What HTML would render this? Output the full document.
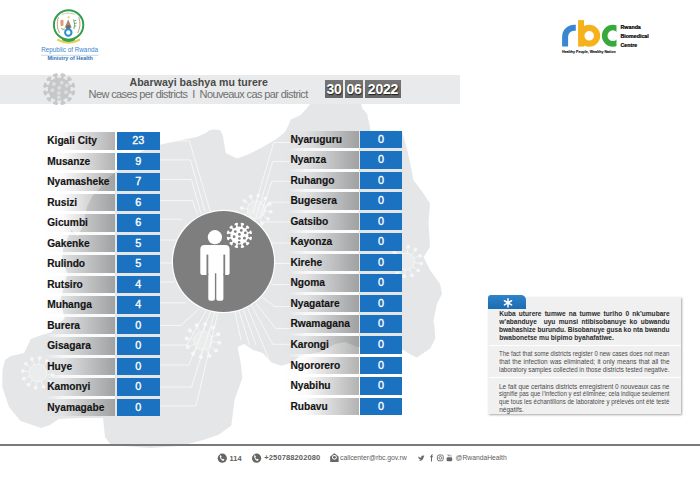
<!DOCTYPE html>
<html><head><meta charset="utf-8">
<style>
*{margin:0;padding:0;box-sizing:border-box}
html,body{width:700px;height:478px;overflow:hidden;background:#fff}
body{position:relative;font-family:"Liberation Sans",sans-serif}
.abs{position:absolute}
.bar{position:absolute;height:17.5px;background:linear-gradient(to right,rgba(0,0,0,0) 0%,rgba(0,0,0,0.02) 30%,rgba(0,0,0,0.30) 100%)}
.nm{position:absolute;height:17.5px;line-height:17.5px;font-weight:bold;font-size:10.2px;color:#141414;white-space:nowrap;-webkit-text-stroke:0.15px #141414}
.bx{position:absolute;height:17.5px;line-height:16.6px;background:#1b72c0;color:#fff;font-size:10.8px;text-align:center;-webkit-text-stroke:0.35px #fff}
.sep{position:absolute;height:3px;background:linear-gradient(to right,rgba(255,255,255,0),rgba(255,255,255,0.75) 25%,rgba(255,255,255,0.9))}
.il{position:absolute;white-space:nowrap;line-height:7px}
.jl{text-align:justify;text-align-last:justify}
.dt{position:absolute;top:79.8px;height:18.6px;background:linear-gradient(#757575,#666);color:#fff;font-weight:bold;font-size:14px;line-height:19px;text-align:center;letter-spacing:-0.2px;text-shadow:0.6px 0.8px 1px rgba(0,0,0,.75)}
</style></head><body>
<svg class="abs" style="left:0;top:0" width="700" height="478" viewBox="0 0 700 478">
<polygon points="311.4,102.5 360.7,102.5 362.0,108.0 367.0,113.7 369.3,123.7 370.7,130.9 395.0,130.5 402.0,131.0 407.0,149.0 411.4,169.0 413.4,180.0 423.5,193.4 430.0,203.4 428.5,223.5 430.0,247.0 423.5,257.0 430.0,270.0 440.0,283.8 442.0,293.8 437.0,303.8 433.5,320.6 434.4,325.0 435.3,338.4 430.2,348.4 416.9,357.6 410.0,354.3 403.5,350.0 370.0,350.0 355.0,346.0 345.0,342.0 335.0,344.0 320.0,352.0 300.0,356.0 291.0,362.7 281.5,365.8 272.0,362.7 262.7,353.0 253.0,350.0 244.0,344.0 237.6,347.0 240.7,362.7 242.3,378.0 234.5,400.0 231.3,425.4 218.8,434.8 203.0,440.0 180.0,446.0 150.0,448.0 111.0,445.0 105.0,437.0 103.0,418.0 80.0,418.0 59.0,419.0 50.0,425.0 41.0,428.0 20.6,421.0 9.0,407.0 2.3,387.0 2.5,370.0 5.0,360.0 10.3,356.3 24.0,353.0 25.7,349.5 30.9,339.0 39.4,335.7 51.5,332.3 58.3,323.7 64.8,318.5 60.1,301.6 63.9,286.5 67.7,273.3 62.0,262.0 63.0,248.8 71.4,230.0 77.7,236.6 83.3,225.3 85.2,214.0 87.0,206.5 92.7,195.2 100.3,187.7 107.8,178.2 115.3,172.6 140.0,152.0 161.0,144.6 184.0,139.5 197.0,137.0 205.7,133.0 210.0,130.0 214.3,129.4 220.0,130.0 222.9,135.7 224.3,144.3 225.7,152.9 237.0,158.6 248.6,154.3 262.9,147.0 277.0,138.6 285.0,132.0 287.9,126.6 290.7,119.4 300.7,115.0 306.4,108.7" fill="#e5e6e7"/>
<path d="M160,140.9 H189.4 L210.3,211.6 M160,159.9 H190.4 L205,211.6 M160,179.6 H191.5 L200.9,213.7 M160,200.7 H192.5 L197.5,214.5 M160,219.2 H182 M160,240 H175.8 M160,263 H172.5 M160,282 H174.5 M160,302.9 H186 M160,325.4 H181 L199,309 M160,345 H187 L206,310.8 M160,365 H188.7 L210.6,312 M160,387 H191.6 L215,312 M160,406 H196 L218,312 M290.4,142.5 H273.7 L252.8,213.7 M290.4,161.4 H272.7 L256,217.9 M290.4,181.3 H271.6 L260,217.9 M290.4,202.2 H268.5 L262,215.8 M290.4,222 H261 M290.4,243 H270 M290.4,263.5 H274.3 M290.4,284.6 H271.6 M290.4,306.6 H274.7 L262.2,297.2 M290.4,328.6 H275.8 L256,303.5 M290.4,344.3 H272.7 L251.7,305.6 M247.5,307.7 L268.5,357.9 M243.4,309.7 L256,345 M239,310.8 L249.6,345 M235,311.5 L241,340" fill="none" stroke="#fff" stroke-width="0.75" opacity="0.9"/>
<g fill="none" stroke="#fff" stroke-width="0.8" opacity="0.7"><circle cx="256.3" cy="209.9" r="8.9" fill="#fff" fill-opacity="0.35"/><line x1="265.12" y1="211.05" x2="270.78" y2="211.79"/><circle cx="270.78" cy="211.79" r="1.5" fill="#fff"/><line x1="263.37" y1="215.31" x2="267.89" y2="218.78"/><circle cx="267.89" cy="218.78" r="1.5" fill="#fff"/><line x1="259.71" y1="218.12" x2="261.90" y2="223.38"/><circle cx="261.90" cy="223.38" r="1.5" fill="#fff"/><line x1="255.15" y1="218.72" x2="254.41" y2="224.38"/><circle cx="254.41" cy="224.38" r="1.5" fill="#fff"/><line x1="250.89" y1="216.97" x2="247.42" y2="221.49"/><circle cx="247.42" cy="221.49" r="1.5" fill="#fff"/><line x1="248.08" y1="213.31" x2="242.82" y2="215.50"/><circle cx="242.82" cy="215.50" r="1.5" fill="#fff"/><line x1="247.48" y1="208.75" x2="241.82" y2="208.01"/><circle cx="241.82" cy="208.01" r="1.5" fill="#fff"/><line x1="249.23" y1="204.49" x2="244.71" y2="201.02"/><circle cx="244.71" cy="201.02" r="1.5" fill="#fff"/><line x1="252.89" y1="201.68" x2="250.70" y2="196.42"/><circle cx="250.70" cy="196.42" r="1.5" fill="#fff"/><line x1="257.45" y1="201.08" x2="258.19" y2="195.42"/><circle cx="258.19" cy="195.42" r="1.5" fill="#fff"/><line x1="261.71" y1="202.83" x2="265.18" y2="198.31"/><circle cx="265.18" cy="198.31" r="1.5" fill="#fff"/><line x1="264.52" y1="206.49" x2="269.78" y2="204.30"/><circle cx="269.78" cy="204.30" r="1.5" fill="#fff"/></g>
<g fill="none" stroke="#fff" stroke-width="0.8" opacity="0.7"><circle cx="203" cy="340.6" r="9.2" fill="#fff" fill-opacity="0.35"/><line x1="212.12" y1="341.79" x2="219.36" y2="342.74"/><circle cx="219.36" cy="342.74" r="1.7" fill="#fff"/><line x1="210.30" y1="346.19" x2="216.10" y2="350.63"/><circle cx="216.10" cy="350.63" r="1.7" fill="#fff"/><line x1="206.53" y1="349.10" x2="209.33" y2="355.84"/><circle cx="209.33" cy="355.84" r="1.7" fill="#fff"/><line x1="201.81" y1="349.72" x2="200.86" y2="356.96"/><circle cx="200.86" cy="356.96" r="1.7" fill="#fff"/><line x1="197.41" y1="347.90" x2="192.97" y2="353.70"/><circle cx="192.97" cy="353.70" r="1.7" fill="#fff"/><line x1="194.50" y1="344.13" x2="187.76" y2="346.93"/><circle cx="187.76" cy="346.93" r="1.7" fill="#fff"/><line x1="193.88" y1="339.41" x2="186.64" y2="338.46"/><circle cx="186.64" cy="338.46" r="1.7" fill="#fff"/><line x1="195.70" y1="335.01" x2="189.90" y2="330.57"/><circle cx="189.90" cy="330.57" r="1.7" fill="#fff"/><line x1="199.47" y1="332.10" x2="196.67" y2="325.36"/><circle cx="196.67" cy="325.36" r="1.7" fill="#fff"/><line x1="204.19" y1="331.48" x2="205.14" y2="324.24"/><circle cx="205.14" cy="324.24" r="1.7" fill="#fff"/><line x1="208.59" y1="333.30" x2="213.03" y2="327.50"/><circle cx="213.03" cy="327.50" r="1.7" fill="#fff"/><line x1="211.50" y1="337.07" x2="218.24" y2="334.27"/><circle cx="218.24" cy="334.27" r="1.7" fill="#fff"/></g>
<g fill="none" stroke="#fff" stroke-width="0.8" opacity="0.7"><circle cx="37.7" cy="372.9" r="8.8" fill="#fff" fill-opacity="0.35"/><line x1="46.43" y1="374.04" x2="52.57" y2="374.84"/><circle cx="52.57" cy="374.84" r="1.5" fill="#fff"/><line x1="44.69" y1="378.25" x2="49.61" y2="382.02"/><circle cx="49.61" cy="382.02" r="1.5" fill="#fff"/><line x1="41.07" y1="381.03" x2="43.45" y2="386.75"/><circle cx="43.45" cy="386.75" r="1.5" fill="#fff"/><line x1="36.56" y1="381.63" x2="35.76" y2="387.77"/><circle cx="35.76" cy="387.77" r="1.5" fill="#fff"/><line x1="32.35" y1="379.89" x2="28.58" y2="384.81"/><circle cx="28.58" cy="384.81" r="1.5" fill="#fff"/><line x1="29.57" y1="376.27" x2="23.85" y2="378.65"/><circle cx="23.85" cy="378.65" r="1.5" fill="#fff"/><line x1="28.97" y1="371.76" x2="22.83" y2="370.96"/><circle cx="22.83" cy="370.96" r="1.5" fill="#fff"/><line x1="30.71" y1="367.55" x2="25.79" y2="363.78"/><circle cx="25.79" cy="363.78" r="1.5" fill="#fff"/><line x1="34.33" y1="364.77" x2="31.95" y2="359.05"/><circle cx="31.95" cy="359.05" r="1.5" fill="#fff"/><line x1="38.84" y1="364.17" x2="39.64" y2="358.03"/><circle cx="39.64" cy="358.03" r="1.5" fill="#fff"/><line x1="43.05" y1="365.91" x2="46.82" y2="360.99"/><circle cx="46.82" cy="360.99" r="1.5" fill="#fff"/><line x1="45.83" y1="369.53" x2="51.55" y2="367.15"/><circle cx="51.55" cy="367.15" r="1.5" fill="#fff"/></g>
<g fill="none" stroke="#fff" stroke-width="0.8" opacity="0.7"><circle cx="406.3" cy="261.5" r="8.5" fill="#fff" fill-opacity="0.35"/><line x1="414.73" y1="262.60" x2="421.17" y2="263.44"/><circle cx="421.17" cy="263.44" r="1.5" fill="#fff"/><line x1="413.05" y1="266.67" x2="418.21" y2="270.62"/><circle cx="418.21" cy="270.62" r="1.5" fill="#fff"/><line x1="409.56" y1="269.35" x2="412.05" y2="275.35"/><circle cx="412.05" cy="275.35" r="1.5" fill="#fff"/><line x1="405.20" y1="269.93" x2="404.36" y2="276.37"/><circle cx="404.36" cy="276.37" r="1.5" fill="#fff"/><line x1="401.13" y1="268.25" x2="397.18" y2="273.41"/><circle cx="397.18" cy="273.41" r="1.5" fill="#fff"/><line x1="398.45" y1="264.76" x2="392.45" y2="267.25"/><circle cx="392.45" cy="267.25" r="1.5" fill="#fff"/><line x1="397.87" y1="260.40" x2="391.43" y2="259.56"/><circle cx="391.43" cy="259.56" r="1.5" fill="#fff"/><line x1="399.55" y1="256.33" x2="394.39" y2="252.38"/><circle cx="394.39" cy="252.38" r="1.5" fill="#fff"/><line x1="403.04" y1="253.65" x2="400.55" y2="247.65"/><circle cx="400.55" cy="247.65" r="1.5" fill="#fff"/><line x1="407.40" y1="253.07" x2="408.24" y2="246.63"/><circle cx="408.24" cy="246.63" r="1.5" fill="#fff"/><line x1="411.47" y1="254.75" x2="415.42" y2="249.59"/><circle cx="415.42" cy="249.59" r="1.5" fill="#fff"/><line x1="414.15" y1="258.24" x2="420.15" y2="255.75"/><circle cx="420.15" cy="255.75" r="1.5" fill="#fff"/></g>
</svg>
<!-- header band -->
<div class="abs" style="left:0;top:75px;width:460px;height:28.5px;background:#e9eaeb"></div>
<svg class="abs" style="left:0;top:60px" width="120" height="60" viewBox="0 60 120 60">
<g fill="#c6c7c8"><rect x="9.04" y="-1.10" width="5.96" height="2.2" transform="translate(59.2,89.1) rotate(14.90)"/><rect x="13.20" y="-2.50" width="2.88" height="5.00" rx="1.26" transform="translate(59.2,89.1) rotate(14.90)"/><rect x="9.04" y="-1.10" width="5.96" height="2.2" transform="translate(59.2,89.1) rotate(44.90)"/><rect x="13.20" y="-2.50" width="2.88" height="5.00" rx="1.26" transform="translate(59.2,89.1) rotate(44.90)"/><rect x="9.04" y="-1.10" width="5.96" height="2.2" transform="translate(59.2,89.1) rotate(74.90)"/><rect x="13.20" y="-2.50" width="2.88" height="5.00" rx="1.26" transform="translate(59.2,89.1) rotate(74.90)"/><rect x="9.04" y="-1.10" width="5.96" height="2.2" transform="translate(59.2,89.1) rotate(104.90)"/><rect x="13.20" y="-2.50" width="2.88" height="5.00" rx="1.26" transform="translate(59.2,89.1) rotate(104.90)"/><rect x="9.04" y="-1.10" width="5.96" height="2.2" transform="translate(59.2,89.1) rotate(134.90)"/><rect x="13.20" y="-2.50" width="2.88" height="5.00" rx="1.26" transform="translate(59.2,89.1) rotate(134.90)"/><rect x="9.04" y="-1.10" width="5.96" height="2.2" transform="translate(59.2,89.1) rotate(164.90)"/><rect x="13.20" y="-2.50" width="2.88" height="5.00" rx="1.26" transform="translate(59.2,89.1) rotate(164.90)"/><rect x="9.04" y="-1.10" width="5.96" height="2.2" transform="translate(59.2,89.1) rotate(194.90)"/><rect x="13.20" y="-2.50" width="2.88" height="5.00" rx="1.26" transform="translate(59.2,89.1) rotate(194.90)"/><rect x="9.04" y="-1.10" width="5.96" height="2.2" transform="translate(59.2,89.1) rotate(224.90)"/><rect x="13.20" y="-2.50" width="2.88" height="5.00" rx="1.26" transform="translate(59.2,89.1) rotate(224.90)"/><rect x="9.04" y="-1.10" width="5.96" height="2.2" transform="translate(59.2,89.1) rotate(254.90)"/><rect x="13.20" y="-2.50" width="2.88" height="5.00" rx="1.26" transform="translate(59.2,89.1) rotate(254.90)"/><rect x="9.04" y="-1.10" width="5.96" height="2.2" transform="translate(59.2,89.1) rotate(284.90)"/><rect x="13.20" y="-2.50" width="2.88" height="5.00" rx="1.26" transform="translate(59.2,89.1) rotate(284.90)"/><rect x="9.04" y="-1.10" width="5.96" height="2.2" transform="translate(59.2,89.1) rotate(314.90)"/><rect x="13.20" y="-2.50" width="2.88" height="5.00" rx="1.26" transform="translate(59.2,89.1) rotate(314.90)"/><rect x="9.04" y="-1.10" width="5.96" height="2.2" transform="translate(59.2,89.1) rotate(344.90)"/><rect x="13.20" y="-2.50" width="2.88" height="5.00" rx="1.26" transform="translate(59.2,89.1) rotate(344.90)"/><circle cx="59.2" cy="89.1" r="11.3"/></g><g fill="#dcdddd"><circle cx="53.90" cy="84.10" r="2.0"/><circle cx="61.70" cy="82.70" r="2.0"/><circle cx="66.70" cy="85.50" r="2.0"/><circle cx="59.20" cy="87.70" r="2.0"/><circle cx="52.40" cy="90.20" r="2.0"/><circle cx="58.80" cy="93.00" r="2.0"/><circle cx="66.00" cy="92.30" r="2.0"/><circle cx="58.80" cy="97.40" r="1.9"/></g>
</svg>
<div class="abs" style="left:129.5px;top:76px;font-size:10.6px;font-weight:bold;color:#4a4a4a;white-space:nowrap">Abarwayi bashya mu turere</div>
<div class="abs" style="left:88.6px;top:88px;font-size:11px;color:#707070;white-space:nowrap;letter-spacing:-0.62px">New cases per districts&nbsp; I &nbsp;Nouveaux cas par district</div>
<div class="dt" style="left:325.1px;width:18px">30</div>
<div class="dt" style="left:345px;width:18px">06</div>
<div class="dt" style="left:365px;width:36px">2022</div>
<div class="bar" style="left:40px;top:132.00px;width:75.2px"></div><div class="nm" style="left:47.2px;top:132.00px">Kigali City</div><div class="bx" style="left:117px;top:132.00px;width:42.5px">23</div>
<div class="sep" style="left:46px;top:149.50px;width:69.2px"></div>
<div class="bar" style="left:40px;top:152.50px;width:75.2px"></div><div class="nm" style="left:47.2px;top:152.50px">Musanze</div><div class="bx" style="left:117px;top:152.50px;width:42.5px">9</div>
<div class="sep" style="left:46px;top:170.00px;width:69.2px"></div>
<div class="bar" style="left:40px;top:173.00px;width:75.2px"></div><div class="nm" style="left:47.2px;top:173.00px">Nyamasheke</div><div class="bx" style="left:117px;top:173.00px;width:42.5px">7</div>
<div class="sep" style="left:46px;top:190.50px;width:69.2px"></div>
<div class="bar" style="left:40px;top:193.50px;width:75.2px"></div><div class="nm" style="left:47.2px;top:193.50px">Rusizi</div><div class="bx" style="left:117px;top:193.50px;width:42.5px">6</div>
<div class="sep" style="left:46px;top:211.00px;width:69.2px"></div>
<div class="bar" style="left:40px;top:214.00px;width:75.2px"></div><div class="nm" style="left:47.2px;top:214.00px">Gicumbi</div><div class="bx" style="left:117px;top:214.00px;width:42.5px">6</div>
<div class="sep" style="left:46px;top:231.50px;width:69.2px"></div>
<div class="bar" style="left:40px;top:234.50px;width:75.2px"></div><div class="nm" style="left:47.2px;top:234.50px">Gakenke</div><div class="bx" style="left:117px;top:234.50px;width:42.5px">5</div>
<div class="sep" style="left:46px;top:252.00px;width:69.2px"></div>
<div class="bar" style="left:40px;top:255.00px;width:75.2px"></div><div class="nm" style="left:47.2px;top:255.00px">Rulindo</div><div class="bx" style="left:117px;top:255.00px;width:42.5px">5</div>
<div class="sep" style="left:46px;top:272.50px;width:69.2px"></div>
<div class="bar" style="left:40px;top:275.50px;width:75.2px"></div><div class="nm" style="left:47.2px;top:275.50px">Rutsiro</div><div class="bx" style="left:117px;top:275.50px;width:42.5px">4</div>
<div class="sep" style="left:46px;top:293.00px;width:69.2px"></div>
<div class="bar" style="left:40px;top:296.00px;width:75.2px"></div><div class="nm" style="left:47.2px;top:296.00px">Muhanga</div><div class="bx" style="left:117px;top:296.00px;width:42.5px">4</div>
<div class="sep" style="left:46px;top:313.50px;width:69.2px"></div>
<div class="bar" style="left:40px;top:316.50px;width:75.2px"></div><div class="nm" style="left:47.2px;top:316.50px">Burera</div><div class="bx" style="left:117px;top:316.50px;width:42.5px">0</div>
<div class="sep" style="left:46px;top:334.00px;width:69.2px"></div>
<div class="bar" style="left:40px;top:337.00px;width:75.2px"></div><div class="nm" style="left:47.2px;top:337.00px">Gisagara</div><div class="bx" style="left:117px;top:337.00px;width:42.5px">0</div>
<div class="sep" style="left:46px;top:354.50px;width:69.2px"></div>
<div class="bar" style="left:40px;top:357.50px;width:75.2px"></div><div class="nm" style="left:47.2px;top:357.50px">Huye</div><div class="bx" style="left:117px;top:357.50px;width:42.5px">0</div>
<div class="sep" style="left:46px;top:375.00px;width:69.2px"></div>
<div class="bar" style="left:40px;top:378.00px;width:75.2px"></div><div class="nm" style="left:47.2px;top:378.00px">Kamonyi</div><div class="bx" style="left:117px;top:378.00px;width:42.5px">0</div>
<div class="sep" style="left:46px;top:395.50px;width:69.2px"></div>
<div class="bar" style="left:40px;top:398.50px;width:75.2px"></div><div class="nm" style="left:47.2px;top:398.50px">Nyamagabe</div><div class="bx" style="left:117px;top:398.50px;width:42.5px">0</div>
<div class="bar" style="left:283px;top:130.50px;width:76px"></div><div class="nm" style="left:290.4px;top:130.50px">Nyaruguru</div><div class="bx" style="left:360.2px;top:130.50px;width:41.8px">0</div>
<div class="sep" style="left:289px;top:148.00px;width:70px"></div>
<div class="bar" style="left:283px;top:151.05px;width:76px"></div><div class="nm" style="left:290.4px;top:151.05px">Nyanza</div><div class="bx" style="left:360.2px;top:151.05px;width:41.8px">0</div>
<div class="sep" style="left:289px;top:168.55px;width:70px"></div>
<div class="bar" style="left:283px;top:171.60px;width:76px"></div><div class="nm" style="left:290.4px;top:171.60px">Ruhango</div><div class="bx" style="left:360.2px;top:171.60px;width:41.8px">0</div>
<div class="sep" style="left:289px;top:189.10px;width:70px"></div>
<div class="bar" style="left:283px;top:192.15px;width:76px"></div><div class="nm" style="left:290.4px;top:192.15px">Bugesera</div><div class="bx" style="left:360.2px;top:192.15px;width:41.8px">0</div>
<div class="sep" style="left:289px;top:209.65px;width:70px"></div>
<div class="bar" style="left:283px;top:212.70px;width:76px"></div><div class="nm" style="left:290.4px;top:212.70px">Gatsibo</div><div class="bx" style="left:360.2px;top:212.70px;width:41.8px">0</div>
<div class="sep" style="left:289px;top:230.20px;width:70px"></div>
<div class="bar" style="left:283px;top:233.25px;width:76px"></div><div class="nm" style="left:290.4px;top:233.25px">Kayonza</div><div class="bx" style="left:360.2px;top:233.25px;width:41.8px">0</div>
<div class="sep" style="left:289px;top:250.75px;width:70px"></div>
<div class="bar" style="left:283px;top:253.80px;width:76px"></div><div class="nm" style="left:290.4px;top:253.80px">Kirehe</div><div class="bx" style="left:360.2px;top:253.80px;width:41.8px">0</div>
<div class="sep" style="left:289px;top:271.30px;width:70px"></div>
<div class="bar" style="left:283px;top:274.35px;width:76px"></div><div class="nm" style="left:290.4px;top:274.35px">Ngoma</div><div class="bx" style="left:360.2px;top:274.35px;width:41.8px">0</div>
<div class="sep" style="left:289px;top:291.85px;width:70px"></div>
<div class="bar" style="left:283px;top:294.90px;width:76px"></div><div class="nm" style="left:290.4px;top:294.90px">Nyagatare</div><div class="bx" style="left:360.2px;top:294.90px;width:41.8px">0</div>
<div class="sep" style="left:289px;top:312.40px;width:70px"></div>
<div class="bar" style="left:283px;top:315.45px;width:76px"></div><div class="nm" style="left:290.4px;top:315.45px">Rwamagana</div><div class="bx" style="left:360.2px;top:315.45px;width:41.8px">0</div>
<div class="sep" style="left:289px;top:332.95px;width:70px"></div>
<div class="bar" style="left:283px;top:336.00px;width:76px"></div><div class="nm" style="left:290.4px;top:336.00px">Karongi</div><div class="bx" style="left:360.2px;top:336.00px;width:41.8px">0</div>
<div class="sep" style="left:289px;top:353.50px;width:70px"></div>
<div class="bar" style="left:283px;top:356.55px;width:76px"></div><div class="nm" style="left:290.4px;top:356.55px">Ngororero</div><div class="bx" style="left:360.2px;top:356.55px;width:41.8px">0</div>
<div class="sep" style="left:289px;top:374.05px;width:70px"></div>
<div class="bar" style="left:283px;top:377.10px;width:76px"></div><div class="nm" style="left:290.4px;top:377.10px">Nyabihu</div><div class="bx" style="left:360.2px;top:377.10px;width:41.8px">0</div>
<div class="sep" style="left:289px;top:394.60px;width:70px"></div>
<div class="bar" style="left:283px;top:397.65px;width:76px"></div><div class="nm" style="left:290.4px;top:397.65px">Rubavu</div><div class="bx" style="left:360.2px;top:397.65px;width:41.8px">0</div>
<!-- circle -->
<div class="abs" style="left:172.6px;top:211.2px;width:101.4px;height:100.6px;border-radius:50%;background:#7e7e7e;box-shadow:0 0 0 1.2px rgba(255,255,255,0.95)"></div>
<svg class="abs" style="left:0;top:0" width="700" height="478" viewBox="0 0 700 478">
<circle cx="214.9" cy="237.2" r="7.1" fill="#fff"/>
<path d="M204.7,244.9 H225.2 Q229.6,244.9 229.6,249.3 V273 Q229.6,275 227.6,275 H225.4 Q223.4,275 223.4,273 V254.6 H223.4 V298.8 Q223.4,300.8 221.4,300.8 H218.3 Q216.3,300.8 216.3,298.8 V273.3 H214.9 V298.8 Q214.9,300.8 212.9,300.8 H210.3 Q208.3,300.8 208.3,298.8 V254.6 V273 Q208.3,275 206.3,275 H202.3 Q200.3,275 200.3,273 V249.3 Q200.3,244.9 204.7,244.9 Z" fill="#fff"/>
<rect x="206.5" y="254.6" width="1.8" height="21" fill="#7e7e7e"/>
<rect x="223.4" y="254.6" width="1.8" height="21" fill="#7e7e7e"/>
<g fill="#fff"><rect x="7.20" y="-0.85" width="4.80" height="1.7" transform="translate(239.4,235.4) rotate(14.90)"/><rect x="10.70" y="-1.80" width="2.08" height="3.60" rx="0.91" transform="translate(239.4,235.4) rotate(14.90)"/><rect x="7.20" y="-0.85" width="4.80" height="1.7" transform="translate(239.4,235.4) rotate(44.90)"/><rect x="10.70" y="-1.80" width="2.08" height="3.60" rx="0.91" transform="translate(239.4,235.4) rotate(44.90)"/><rect x="7.20" y="-0.85" width="4.80" height="1.7" transform="translate(239.4,235.4) rotate(74.90)"/><rect x="10.70" y="-1.80" width="2.08" height="3.60" rx="0.91" transform="translate(239.4,235.4) rotate(74.90)"/><rect x="7.20" y="-0.85" width="4.80" height="1.7" transform="translate(239.4,235.4) rotate(104.90)"/><rect x="10.70" y="-1.80" width="2.08" height="3.60" rx="0.91" transform="translate(239.4,235.4) rotate(104.90)"/><rect x="7.20" y="-0.85" width="4.80" height="1.7" transform="translate(239.4,235.4) rotate(134.90)"/><rect x="10.70" y="-1.80" width="2.08" height="3.60" rx="0.91" transform="translate(239.4,235.4) rotate(134.90)"/><rect x="7.20" y="-0.85" width="4.80" height="1.7" transform="translate(239.4,235.4) rotate(164.90)"/><rect x="10.70" y="-1.80" width="2.08" height="3.60" rx="0.91" transform="translate(239.4,235.4) rotate(164.90)"/><rect x="7.20" y="-0.85" width="4.80" height="1.7" transform="translate(239.4,235.4) rotate(194.90)"/><rect x="10.70" y="-1.80" width="2.08" height="3.60" rx="0.91" transform="translate(239.4,235.4) rotate(194.90)"/><rect x="7.20" y="-0.85" width="4.80" height="1.7" transform="translate(239.4,235.4) rotate(224.90)"/><rect x="10.70" y="-1.80" width="2.08" height="3.60" rx="0.91" transform="translate(239.4,235.4) rotate(224.90)"/><rect x="7.20" y="-0.85" width="4.80" height="1.7" transform="translate(239.4,235.4) rotate(254.90)"/><rect x="10.70" y="-1.80" width="2.08" height="3.60" rx="0.91" transform="translate(239.4,235.4) rotate(254.90)"/><rect x="7.20" y="-0.85" width="4.80" height="1.7" transform="translate(239.4,235.4) rotate(284.90)"/><rect x="10.70" y="-1.80" width="2.08" height="3.60" rx="0.91" transform="translate(239.4,235.4) rotate(284.90)"/><rect x="7.20" y="-0.85" width="4.80" height="1.7" transform="translate(239.4,235.4) rotate(314.90)"/><rect x="10.70" y="-1.80" width="2.08" height="3.60" rx="0.91" transform="translate(239.4,235.4) rotate(314.90)"/><rect x="7.20" y="-0.85" width="4.80" height="1.7" transform="translate(239.4,235.4) rotate(344.90)"/><rect x="10.70" y="-1.80" width="2.08" height="3.60" rx="0.91" transform="translate(239.4,235.4) rotate(344.90)"/><circle cx="239.4" cy="235.4" r="9.0"/></g><g fill="#7e7e7e"><circle cx="235.30" cy="231.60" r="1.35"/><circle cx="241.30" cy="230.40" r="1.35"/><circle cx="245.36" cy="232.90" r="1.35"/><circle cx="239.40" cy="234.46" r="1.35"/><circle cx="234.10" cy="236.65" r="1.35"/><circle cx="239.40" cy="238.50" r="1.35"/><circle cx="244.40" cy="238.20" r="1.35"/><circle cx="239.10" cy="242.30" r="1.3"/></g>
</svg>
<!-- info box -->
<div class="abs" style="left:488.4px;top:296.8px;width:193px;height:117.6px;background:#f0f0f0;box-shadow:1px 1px 2px rgba(0,0,0,0.35)"></div>
<div class="abs" style="left:488.4px;top:294.7px;width:37.7px;height:13.9px;border-radius:3px 5px 0 0;background:linear-gradient(#2f83c8,#1b6cb3)"></div>
<svg class="abs" style="left:498px;top:293px" width="20" height="20" viewBox="498 293 20 20"><g stroke="#fff" stroke-width="1.5" stroke-linecap="round"><line x1="508" y1="298.7" x2="508" y2="306.9"/><line x1="504.45" y1="300.75" x2="511.55" y2="304.85"/><line x1="504.45" y1="304.85" x2="511.55" y2="300.75"/></g><circle cx="508" cy="302.8" r="1.6" fill="#fff"/></svg>
<div class="abs" style="left:489px;top:344.5px;width:192px;height:1px;background:#fff"></div>
<div class="abs" style="left:489px;top:377px;width:192px;height:1px;background:#fff"></div>
<div class="il jl" style="left:499.2px;top:310.30px;width:170.4px;font-weight:bold;font-size:6.6px;color:#2c2c2c">Kuba uturere tumwe na tumwe turiho 0 nk&rsquo;umubare</div>
<div class="il jl" style="left:499.2px;top:318.10px;width:170.4px;font-weight:bold;font-size:6.6px;color:#2c2c2c">w&rsquo;abanduye&nbsp; uyu munsi ntibisobanuye ko ubwandu</div>
<div class="il" style="left:499.2px;top:325.90px;font-weight:bold;font-size:6.6px;color:#2c2c2c;transform:scaleX(0.9917);transform-origin:0 0">bwahashize burundu. Bisobanuye gusa ko nta bwandu</div>
<div class="il" style="left:499.2px;top:333.70px;font-weight:bold;font-size:6.6px;color:#2c2c2c">bwabonetse mu bipimo byahafatiwe.</div>
<div class="il" style="left:499.2px;top:350.00px;font-size:6.5px;color:#4a4a4a;transform:scaleX(0.9266);transform-origin:0 0">The fact that some districts register 0 new cases does not mean</div>
<div class="il jl" style="left:499.2px;top:357.80px;width:170.4px;font-size:6.5px;color:#4a4a4a">that the infection was eliminated; it only means that all the</div>
<div class="il" style="left:499.2px;top:365.60px;font-size:6.5px;color:#4a4a4a;transform:scaleX(0.9547);transform-origin:0 0">laboratory samples collected in those districts tested negative.</div>
<div class="il" style="left:499.2px;top:382.60px;font-size:6.5px;color:#4a4a4a;transform:scaleX(0.9949);transform-origin:0 0">Le fait que certains districts enregistrent 0 nouveaux cas ne</div>
<div class="il" style="left:499.2px;top:390.35px;font-size:6.5px;color:#4a4a4a;transform:scaleX(0.9174);transform-origin:0 0">signifie pas que l&rsquo;infection y est éliminée; cela indique seulement</div>
<div class="il" style="left:499.2px;top:398.10px;font-size:6.5px;color:#4a4a4a;transform:scaleX(0.9375);transform-origin:0 0">que tous les échantillons de laboratoire y prélevés ont été testé</div>
<div class="il" style="left:499.2px;top:405.85px;font-size:6.5px;color:#4a4a4a">négatifs.</div>

<!-- coat of arms -->
<svg class="abs" style="left:0;top:0" width="140" height="70" viewBox="0 0 140 70">
<circle cx="68.6" cy="24.9" r="14.7" fill="#fff" stroke="#2e9e48" stroke-width="1.9"/>
<path d="M58.5,17 Q55.5,25 59.5,33" fill="none" stroke="#b89a7a" stroke-width="0.9"/>
<path d="M78.7,17 Q81.7,25 77.7,33" fill="none" stroke="#b89a7a" stroke-width="0.9"/>
<path d="M62,14.5 Q68.6,11.8 75.2,14.5" fill="none" stroke="#9a8a6a" stroke-width="0.8" stroke-dasharray="0.8,0.5"/>
<circle cx="68.6" cy="17.3" r="1" fill="#e8c850"/>
<path d="M60.3,20.5 Q62,19 63.6,20.5 L63.4,25.5 Q62,27 60.5,25.5 Z" fill="#e59b78"/>
<path d="M64.8,27.6 L68.2,19.2 L71.7,27.6 Z" fill="#a9896a"/>
<circle cx="68.2" cy="27.5" r="2.4" fill="#6d6d6d"/>
<circle cx="68.3" cy="32.5" r="3.2" fill="none" stroke="#2a8fd0" stroke-width="2"/>
<path d="M73.5,19.5 Q75.5,24 74,29 M74.2,21 L76.3,20.2 M74.5,23.5 L76.8,23 M74.4,26 L76.3,26" fill="none" stroke="#4a9a50" stroke-width="0.8"/>
<path d="M61,28.5 Q63,30 65,29" fill="none" stroke="#4a9a50" stroke-width="0.8"/>
<path d="M57.5,38.5 Q68.6,44.5 79.8,38.5 L80.2,40.8 Q68.6,46.5 57,40.8 Z" fill="#e9cf52"/>
<path d="M62,38 Q68.6,41.6 75.2,38 L75,40.3 Q68.6,43.5 62.2,40.3 Z" fill="#3d9f4a"/>
<line x1="41" y1="55.3" x2="98.5" y2="55.3" stroke="#9ac0e0" stroke-width="0.6"/>
</svg>
<div class="abs" style="left:41.2px;top:46.2px;font-size:6.35px;line-height:8px;color:#3a86c8;white-space:nowrap">Republic of Rwanda</div>
<div class="abs" style="left:47.6px;top:55.2px;font-size:5.4px;line-height:7px;color:#2f6fb3;font-weight:bold;white-space:nowrap">Ministry of Health</div>
<!-- rbc logo -->
<svg class="abs" style="left:540px;top:0" width="160" height="70" viewBox="540 0 160 70">
<path d="M565.1,46.6 V36.7 A9,9 0 0 1 574.1,27.7 H575.8" fill="none" stroke="#3a87d1" stroke-width="6"/>
<path d="M581.05,20.1 V46.6" fill="none" stroke="#f5b21b" stroke-width="5.9"/>
<circle cx="589.2" cy="35.8" r="7.9" fill="none" stroke="#f5b21b" stroke-width="6.2"/>
<clipPath id="cclip"><rect x="595" y="20" width="21.5" height="30"/></clipPath>
<circle cx="612.9" cy="35.7" r="8.2" fill="none" stroke="#38a93a" stroke-width="5.6" clip-path="url(#cclip)"/>
</svg>
<div class="abs" style="left:620.5px;top:22.6px;font-size:5.3px;line-height:9.3px;font-weight:bold;color:#000;white-space:nowrap;-webkit-text-stroke:0.2px #000">Rwanda<br>Biomedical<br>Centre</div>
<div class="abs" style="left:562px;top:49.8px;font-size:3.6px;line-height:5px;font-weight:bold;color:#111;white-space:nowrap;-webkit-text-stroke:0.1px #111">Healthy People, Wealthy Nation</div>

<!-- footer -->
<svg class="abs" style="left:0;top:440px" width="700" height="38" viewBox="0 440 700 38">
<g fill="#666">
<circle cx="222.3" cy="458.2" r="4.6"/>
<circle cx="256.6" cy="458.2" r="4.6"/>
</g>
<g fill="#fff">
<path d="M219.8,455.6 Q219.6,459.5 223.2,461 L224.5,459.8 L223.2,458.7 L222.5,459.3 Q221.3,458.6 221,457.3 L221.7,456.7 L220.7,455.2 Z"/>
<path d="M254.1,455.6 Q253.9,459.5 257.5,461 L258.8,459.8 L257.5,458.7 L256.8,459.3 Q255.6,458.6 255.3,457.3 L256,456.7 L255,455.2 Z"/>
</g>
<path d="M330.2,456.5 L334.4,453.2 L338.6,456.5 V462 H330.2 Z" fill="#666"/>
<circle cx="334.4" cy="457.3" r="2.4" fill="#fff"/>
<circle cx="334.4" cy="457.3" r="1.4" fill="#666"/>
<path d="M417.9,456.2 Q419.5,458 421.5,457.5 Q420.8,456 422.2,455.5 Q423.4,455.5 424.3,455.7 L423.6,457.2 Q423.2,460.8 418.8,461 Q420.3,460.3 420.6,459.6 Q418.5,459.2 417.9,456.2 Z" fill="#666"/>
<path d="M431,461.5 V457.2 H430.1 V456.3 H431 V455.4 Q431,454.4 432.2,454.4 H433 V455.3 H432.4 Q432,455.3 432,455.7 V456.3 H433 L432.9,457.2 H432 V461.5 Z" fill="#666"/>
<rect x="437.4" y="455" width="5.8" height="5.8" rx="1.6" fill="none" stroke="#666" stroke-width="0.9"/>
<circle cx="440.3" cy="457.9" r="1.35" fill="none" stroke="#666" stroke-width="0.8"/>
<path d="M447.8,454.4 L448.6,456.2 L449.4,454.4 M450.3,455.4 V456.4 M451.3,455.4 V456.4" stroke="#666" stroke-width="0.7" fill="none"/>
<rect x="446.6" y="457.2" width="5.6" height="4" rx="1.3" fill="#666"/>
</svg>
<div class="abs" style="left:229.6px;top:454.5px;font-size:7.4px;line-height:8px;font-weight:bold;color:#606060;white-space:nowrap">114</div>
<div class="abs" style="left:264.3px;top:454.3px;font-size:7.5px;line-height:8px;font-weight:bold;color:#606060;white-space:nowrap;letter-spacing:0.12px">+250788202080</div>
<div class="abs" style="left:340px;top:454.2px;font-size:6.9px;line-height:8px;color:#606060;white-space:nowrap;letter-spacing:-0.05px">callcenter@rbc.gov.rw</div>
<div class="abs" style="left:455.6px;top:454.2px;font-size:6.75px;line-height:8px;color:#606060;white-space:nowrap">@RwandaHealth</div>
<!-- footer line -->
<div class="abs" style="left:0;top:443.8px;width:700px;height:2px;background:#7a7a7a"></div>
</body></html>
